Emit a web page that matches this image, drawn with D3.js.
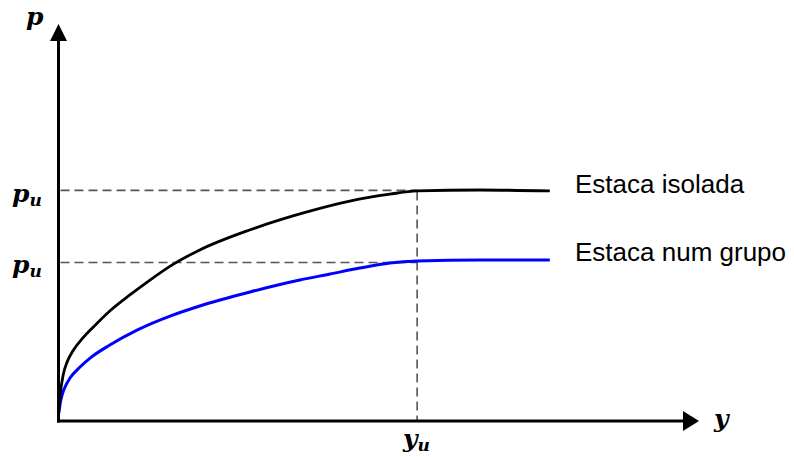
<!DOCTYPE html>
<html>
<head>
<meta charset="utf-8">
<script src="https://cdn.jsdelivr.net/npm/d3@7"></script>
<style>
  html, body { margin: 0; padding: 0; background: #ffffff; }
  svg { display: block; }
</style>
</head>
<body>
<script>
// ---- Data (normalised units: y_u = 1, p_u(isolada) = 1) ----
const isoladaX = [0.001, 0.004, 0.013, 0.024, 0.040, 0.068, 0.097, 0.143, 0.199, 0.255, 0.316, 0.394, 0.533, 0.673, 0.812, 0.924, 1.0, 1.175, 1.370];
const isoladaY = [0.048, 0.105, 0.200, 0.257, 0.305, 0.362, 0.409, 0.479, 0.549, 0.614, 0.679, 0.745, 0.832, 0.902, 0.958, 0.988, 1.002, 1.006, 1.002];
const grupoX   = [0.001, 0.004, 0.010, 0.021, 0.032, 0.060, 0.088, 0.143, 0.219, 0.311, 0.394, 0.534, 0.673, 0.757, 0.840, 0.924, 1.0, 1.175, 1.370];
const grupoY   = [0.035, 0.070, 0.113, 0.157, 0.187, 0.235, 0.274, 0.331, 0.396, 0.457, 0.501, 0.562, 0.614, 0.640, 0.666, 0.688, 0.697, 0.701, 0.701];
const yu = 1.0;
const puIsolada = 1.0;
const puGrupo = 0.69;
const seriesLabels = ["Estaca isolada", "Estaca num grupo"];
const axisLabels = { x: "y", y: "p", xu: ["y", "u"], pu: ["p", "u"] };

const W = 794, H = 457;
const svg = d3.select("body").append("svg").attr("width", W).attr("height", H);

const x = d3.scaleLinear().domain([0, 1.786]).range([58.5, 699]);
const y = d3.scaleLinear().domain([0, 1.729]).range([421, 24]);

// dashed reference lines
const dash = svg.append("g").attr("stroke", "#555").attr("stroke-width", 1.6)
  .attr("stroke-dasharray", "9,5").attr("fill", "none");
dash.append("line").attr("x1", x(0) + 2).attr("x2", x(yu)).attr("y1", y(puIsolada) - 1).attr("y2", y(puIsolada) - 1);
dash.append("line").attr("x1", x(0) + 2).attr("x2", x(yu)).attr("y1", y(puGrupo)).attr("y2", y(puGrupo));
dash.append("line").attr("x1", x(yu)).attr("x2", x(yu)).attr("y1", y(puIsolada)).attr("y2", y(0));

// curves
const line = d3.line().x(d => x(d[0])).y(d => y(d[1])).curve(d3.curveMonotoneX);
const isolada = isoladaX.map((v, i) => [v, isoladaY[i]]);
const grupo = grupoX.map((v, i) => [v, grupoY[i]]);
svg.append("path").datum(grupo).attr("d", line).attr("fill", "none")
  .attr("stroke", "#0000ff").attr("stroke-width", 3);
svg.append("path").datum(isolada).attr("d", line).attr("fill", "none")
  .attr("stroke", "#000").attr("stroke-width", 2.8);

// axes with arrows
const ax = svg.append("g");
ax.append("line").attr("x1", x(0)).attr("x2", x(0)).attr("y1", y(0) + 1.5).attr("y2", 40)
  .attr("stroke", "#000").attr("stroke-width", 3);
ax.append("line").attr("x1", x(0) - 1.5).attr("x2", 684).attr("y1", y(0)).attr("y2", y(0))
  .attr("stroke", "#000").attr("stroke-width", 3);
ax.append("path").attr("d", `M${x(0)},${y.range()[1]} L${x(0) - 8.5},41 L${x(0) + 8.5},41 Z`).attr("fill", "#000");
ax.append("path").attr("d", `M${x.range()[1]},${y(0)} L683,${y(0) - 10} L683,${y(0) + 10} Z`).attr("fill", "#000");

// math labels
function mathLabel(px, py, main, sub) {
  const t = svg.append("text").attr("x", px).attr("y", py)
    .attr("font-family", "'DejaVu Serif', serif").attr("font-style", "italic")
    .attr("font-weight", "bold").attr("font-size", 25).attr("fill", "#000");
  t.append("tspan").text(main);
  if (sub) t.append("tspan").attr("font-size", 17).attr("dy", 4).text(sub);
}
mathLabel(26, 25, axisLabels.y);
mathLabel(12, 202, axisLabels.pu[0], axisLabels.pu[1]);
mathLabel(12, 273, axisLabels.pu[0], axisLabels.pu[1]);
mathLabel(714, 427, axisLabels.x);
mathLabel(403, 447, axisLabels.xu[0], axisLabels.xu[1]);

// series labels
const lab = svg.append("g").attr("font-family", "'Liberation Sans', Arial, sans-serif")
  .attr("font-size", 26).attr("fill", "#000");
lab.append("text").attr("x", 575).attr("y", 193).text(seriesLabels[0]);
lab.append("text").attr("x", 575).attr("y", 261).text(seriesLabels[1]);
</script>
</body>
</html>
